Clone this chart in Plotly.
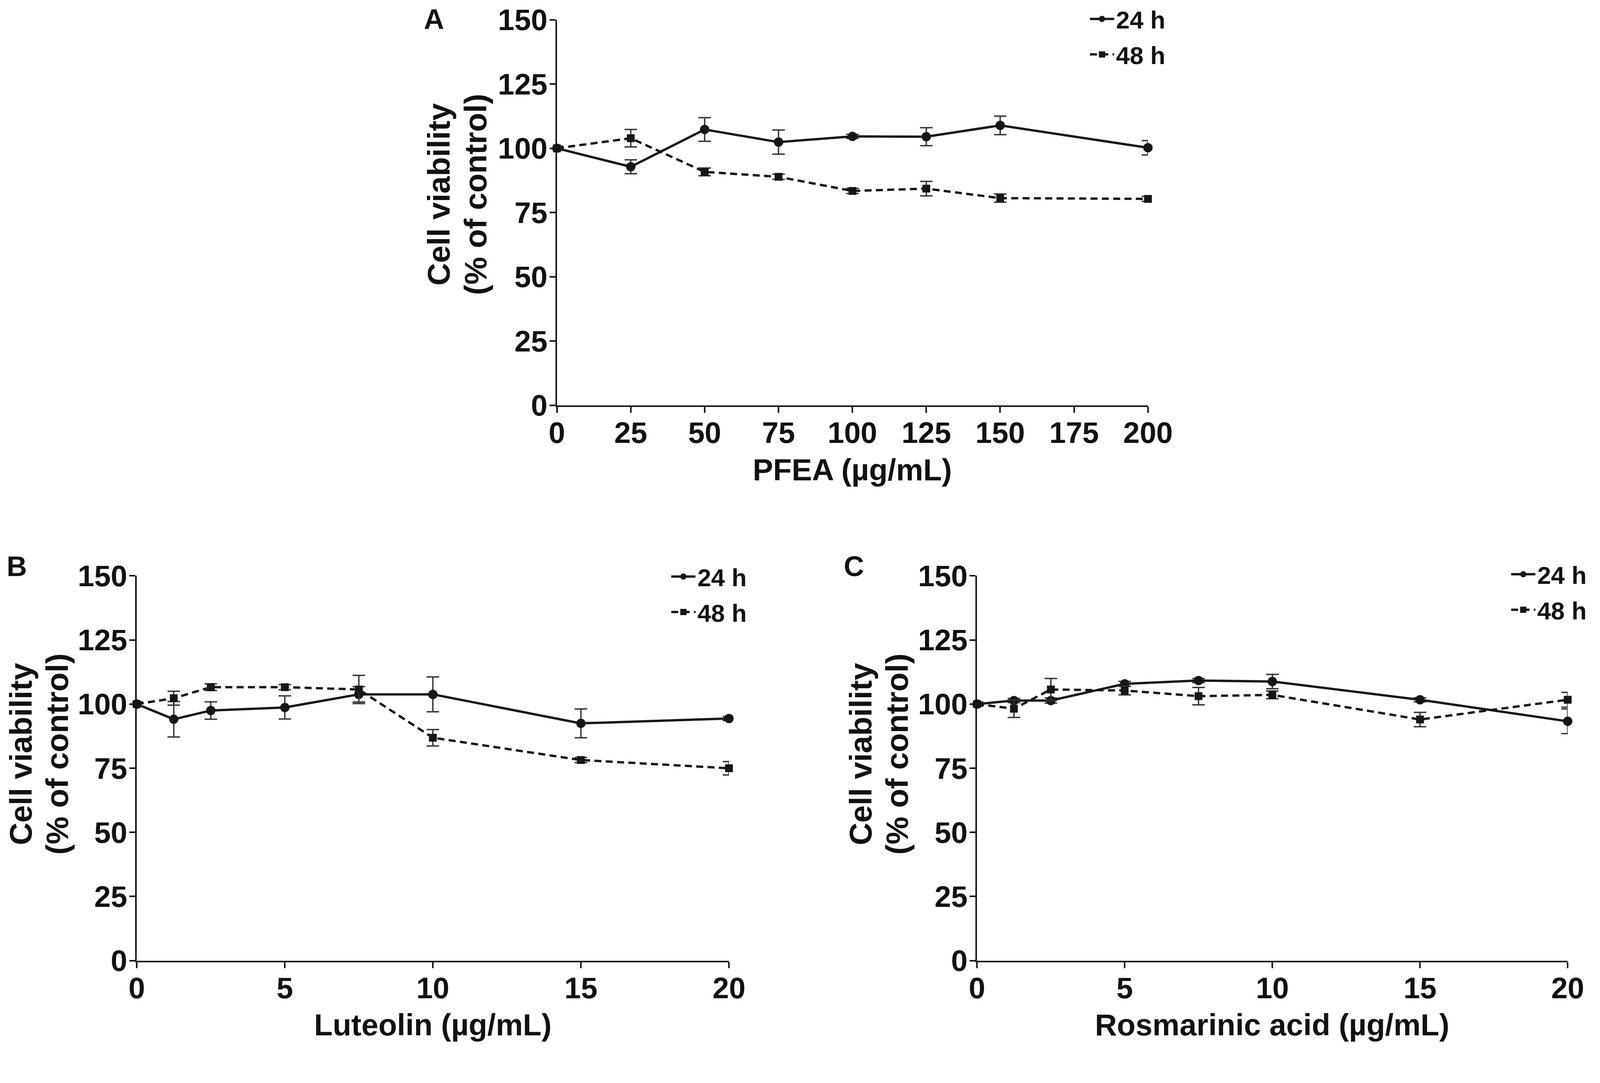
import plotly.graph_objects as go

# concentrations (ug/mL)
pfea_conc = [0, 25, 50, 75, 100, 125, 150, 200]
lut_conc = [0, 1.25, 2.5, 5, 7.5, 10, 15, 20]
ros_conc = [0, 1.25, 2.5, 5, 7.5, 10, 15, 20]

# cell viability (% of control), mean and error
pfea_24h = [100, 92.8, 107.3, 102.4, 104.6, 104.5, 108.9, 100.2]
pfea_24h_err = [0.8, 2.7, 4.6, 4.7, 0.8, 3.5, 3.6, 2.8]
pfea_48h = [100, 103.9, 90.8, 88.9, 83.4, 84.3, 80.6, 80.3]
pfea_48h_err = [0.8, 3.4, 1.5, 1.0, 1.0, 2.8, 1.6, 1.0]

lut_24h = [100, 94.1, 97.5, 98.7, 103.8, 103.8, 92.5, 94.4]
lut_24h_err = [0.8, 6.9, 3.4, 4.5, 3.0, 6.8, 5.6, 0.8]
lut_48h = [100, 102.3, 106.6, 106.6, 105.7, 86.9, 78.2, 75.0]
lut_48h_err = [0.8, 2.7, 1.3, 1.0, 5.5, 3.2, 1.0, 2.6]

ros_24h = [100, 101.4, 101.4, 107.9, 109.2, 108.8, 101.7, 93.3]
ros_24h_err = [0.8, 0.8, 1.0, 1.0, 0.8, 2.8, 0.8, 4.8]
ros_48h = [100, 98.2, 105.7, 105.3, 103.1, 103.6, 94.0, 101.7]
ros_48h_err = [0.8, 3.4, 4.3, 1.7, 3.4, 1.5, 2.8, 2.9]

y_ticks = [0, 25, 50, 75, 100, 125, 150]
pfea_ticks = [0, 25, 50, 75, 100, 125, 150, 175, 200]
conc_ticks = [0, 5, 10, 15, 20]

# positions are measured on the 4212 x 2773 picture, sizes are in css px
W, H = 4212, 2773
FONT = "Liberation Sans, Arial, sans-serif"
INK = "#161616"


def px(x):
    return x / W


def py(y):
    return 1 - y / H


fig = go.Figure()

panels = [
    # x suffix, concentrations, 24h, 24h err, 48h, 48h err, legend id
    ("", pfea_conc, pfea_24h, pfea_24h_err, pfea_48h, pfea_48h_err, "legend"),
    ("2", lut_conc, lut_24h, lut_24h_err, lut_48h, lut_48h_err, "legend2"),
    ("3", ros_conc, ros_24h, ros_24h_err, ros_48h, ros_48h_err, "legend3"),
]

for sfx, conc, v24, e24, v48, e48, leg in panels:
    fig.add_trace(go.Scatter(
        x=conc, y=v24, name="24 h", mode="lines+markers",
        xaxis="x" + sfx, yaxis="y" + sfx, legend=leg,
        legendgroup="a" + sfx, cliponaxis=False,
        line=dict(color=INK, width=6),
        marker=dict(symbol="circle", size=24, color=INK),
        error_y=dict(type="data", array=e24, color="#333",
                     thickness=3.5, width=16),
    ))
    fig.add_trace(go.Scatter(
        x=conc, y=v48, name="48 h", mode="lines+markers",
        xaxis="x" + sfx, yaxis="y" + sfx, legend=leg,
        legendgroup="b" + sfx, cliponaxis=False,
        line=dict(color=INK, width=6, dash="18px,11px"),
        marker=dict(symbol="square", size=20, color=INK),
        error_y=dict(type="data", array=e48, color="#333",
                     thickness=3.5, width=16),
    ))

axis_common = dict(
    showline=True, linecolor=INK, linewidth=4, ticks="outside",
    ticklen=15, tickwidth=4, tickcolor=INK, showgrid=False, zeroline=False,
    automargin=False,
    tickfont=dict(family=FONT, size=76, color="#111", weight="bold"),
)
x_common = dict(ticklabelstandoff=-14, **axis_common)
y_common = dict(ticklabelstandoff=-10, **axis_common)

fig.update_layout(
    autosize=True,
    margin=dict(l=0, r=0, t=0, b=0, autoexpand=False),
    paper_bgcolor="white", plot_bgcolor="white",
    font=dict(family=FONT, color="#111"),
    xaxis=dict(domain=[px(1466), px(3022)], anchor="y", range=[0, 200],
               tickvals=pfea_ticks, **x_common),
    yaxis=dict(domain=[py(1067), py(52)], anchor="x", range=[0, 150],
               tickvals=y_ticks, **y_common),
    xaxis2=dict(domain=[px(360), px(1919)], anchor="y2", range=[0, 20],
                tickvals=conc_ticks, **x_common),
    yaxis2=dict(domain=[py(2529), py(1516)], anchor="x2", range=[0, 150],
                tickvals=y_ticks, **y_common),
    xaxis3=dict(domain=[px(2572), px(4127)], anchor="y3", range=[0, 20],
                tickvals=conc_ticks, **x_common),
    yaxis3=dict(domain=[py(2529), py(1516)], anchor="x3", range=[0, 150],
                tickvals=y_ticks, **y_common),
)

legend_common = dict(
    font=dict(family=FONT, size=63, color="#111", weight="bold"),
    bgcolor="rgba(0,0,0,0)", itemwidth=62, tracegroupgap=6,
    traceorder="grouped", xanchor="left", yanchor="top",
)
fig.update_layout(
    legend=dict(x=px(2864), y=py(1), **legend_common),
    legend2=dict(x=px(1762), y=py(1469), **legend_common),
    legend3=dict(x=px(3973), y=py(1463), **legend_common),
)

bold = dict(family=FONT, color="#111", weight="bold")
annots = []
# y axis titles (two lines each)
for x1, x2, yc in [(1156, 1252, 512), (55, 151, 1985), (2266, 2362, 1985)]:
    annots.append(dict(x=px(x1), y=py(yc), text="Cell viability",
                       textangle=-90, font=dict(size=80, **bold)))
    annots.append(dict(x=px(x2), y=py(yc), text="(% of control)",
                       textangle=-90, font=dict(size=80, **bold)))
# x axis titles
for xc, yc, txt in [(2244, 1237, "PFEA (µg/mL)"),
                    (1139, 2698, "Luteolin (µg/mL)"),
                    (3349, 2698, "Rosmarinic acid (µg/mL)")]:
    annots.append(dict(x=px(xc), y=py(yc), text=txt,
                       font=dict(size=78, **bold)))
# panel letters
for xc, yc, txt in [(1142, 50, "A"), (44, 1491, "B"), (2248, 1491, "C")]:
    annots.append(dict(x=px(xc), y=py(yc), text=txt,
                       font=dict(size=72, **bold)))

for a in annots:
    a.update(xref="paper", yref="paper", showarrow=False,
             xanchor="center", yanchor="middle")
fig.update_layout(annotations=annots)

# fill the window width and keep the picture's aspect ratio
fig.write_html("out.html", default_width="100vw",
               default_height="%.4fvw" % (100 * H / W),
               config={"displayModeBar": False},
               post_script="document.body.style.margin='0px';")
